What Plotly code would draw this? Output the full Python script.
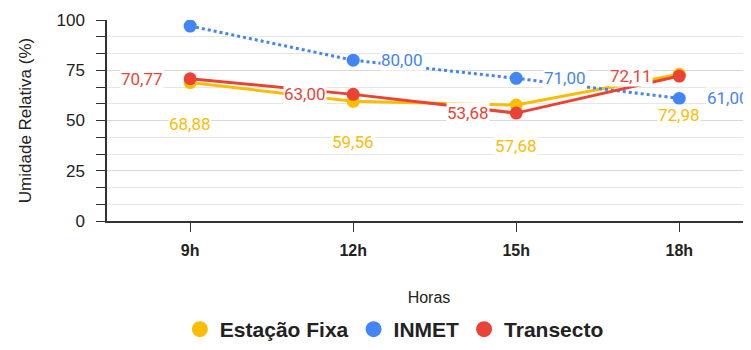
import plotly.graph_objects as go

horas = ["9h", "12h", "15h", "18h"]
estacao_fixa = [68.88, 59.56, 57.68, 72.98]
inmet = [97.0, 80.00, 71.00, 61.00]
transecto = [70.77, 63.00, 53.68, 72.11]

# which points show a data label (Sheets hid the first INMET one)
inmet_label = [False, True, True, True]

AMARELO = "#FBBC04"
AZUL = "#4285F4"
VERMELHO = "#EA4335"
FONTE = "Liberation Sans, Arial, sans-serif"

# the page body keeps its default 8px margin, so the figure is 8px smaller
W, H = 751 - 8, 350 - 8


def fmt(v):
    return f"{v:.2f}".replace(".", ",")


fig = go.Figure()
series = [
    ("Estação Fixa", estacao_fixa, AMARELO, "solid"),
    ("INMET", inmet, AZUL, "dot"),
    ("Transecto", transecto, VERMELHO, "solid"),
]
for nome, valores, cor, traco in series:
    fig.add_trace(go.Scatter(
        x=horas, y=valores, name=nome, mode="lines+markers", showlegend=False,
        line=dict(color=cor, width=3, dash=traco), marker=dict(size=13, color=cor),
    ))
# legend shows only circles, like the sheet
for nome, valores, cor, traco in series:
    fig.add_trace(go.Scatter(
        x=[None], y=[None], name=nome, mode="markers",
        marker=dict(size=16, color=cor),
    ))

label_font = dict(family="Roboto, sans-serif", size=17)
for h, v in zip(horas, estacao_fixa):
    fig.add_annotation(x=h, y=v, text=fmt(v), showarrow=False, yshift=-41,
                       bgcolor="white", borderpad=0, font=dict(label_font, color=AMARELO))
for h, v, show in zip(horas, inmet, inmet_label):
    if show:
        fig.add_annotation(x=h, y=v, text=fmt(v), showarrow=False, xshift=27,
                           xanchor="left", bgcolor="white", borderpad=0,
                           font=dict(label_font, color=AZUL))
for h, v in zip(horas, transecto):
    fig.add_annotation(x=h, y=v, text=fmt(v), showarrow=False, xshift=-26,
                       xanchor="right", bgcolor="white", borderpad=0,
                       font=dict(label_font, color=VERMELHO))

fig.update_xaxes(
    range=[-0.51, 3.44], automargin=False, showgrid=False, showline=True,
    linecolor="#333333", linewidth=1.5, ticks="outside", ticklen=9, tickcolor="#333333",
    tickfont=dict(family=FONTE, size=16, color="#222222", weight="bold"),
    ticklabelstandoff=5,
    title=dict(text="Horas", font=dict(family=FONTE, size=16, color="#222222"),
               standoff=34),
)
fig.update_yaxes(
    range=[0, 100], automargin=False, tickvals=[0, 25, 50, 75, 100], showline=True,
    linecolor="#333333", linewidth=1.5, ticks="outside", ticklen=9, tickcolor="#333333",
    gridcolor="#d9d9d9", zeroline=False,
    minor=dict(dtick=100 / 12, tick0=0, ticks="outside", ticklen=9, tickcolor="#333333",
               showgrid=True, gridcolor="#e6e6e6"),
    tickfont=dict(family=FONTE, size=17, color="#222222"),
    ticklabelstandoff=8,
    title=dict(text="Umidade Relativa (%)",
               font=dict(family=FONTE, size=17, color="#222222"),
               standoff=21),
)

fig.update_layout(
    width=W, height=H,
    margin=dict(l=99, r=0, t=12, b=129),
    paper_bgcolor="white", plot_bgcolor="white",
    showlegend=True,
    legend=dict(orientation="h", x=0.52, xanchor="center", xref="container",
                y=-0.01, yanchor="bottom", yref="container",
                font=dict(family=FONTE, size=21, color="#222222", weight="bold"),
                itemwidth=30, traceorder="normal"),
)

fig.write_html("out.html")
